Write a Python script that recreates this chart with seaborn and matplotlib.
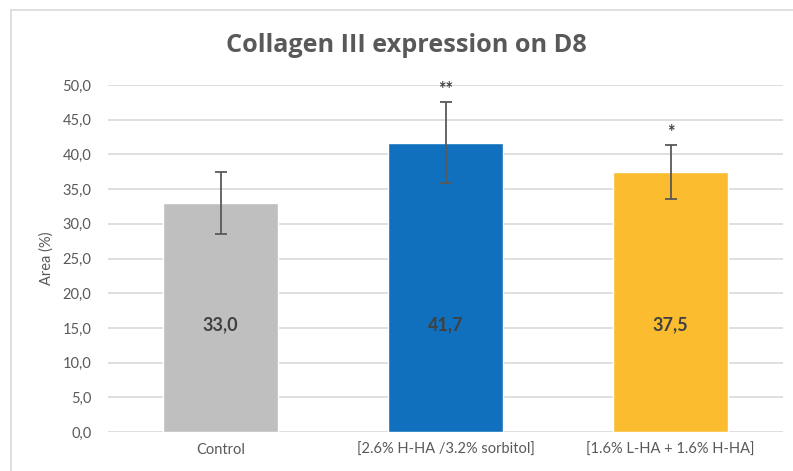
import numpy as np
import matplotlib
matplotlib.use("Agg")
import matplotlib.pyplot as plt
import seaborn as sns
from matplotlib.patches import Rectangle

categories = ["Control", "[2.6% H-HA /3.2% sorbitol]", "[1.6% L-HA + 1.6% H-HA]"]
values = [33.0, 41.7, 37.5]
errors = [4.5, 5.8, 3.9]
value_labels = ["33,0", "41,7", "37,5"]
stars = ["", "**", "*"]
colors = ["#BFBFBF", "#1170BE", "#FBBC2F"]
yticks = [0, 5, 10, 15, 20, 25, 30, 35, 40, 45, 50]

sns.set_style("white")
plt.rcParams["font.family"] = ["Lato", "DejaVu Sans"]

fig = plt.figure(figsize=(7.93, 4.71), dpi=100)
ax = fig.add_axes([108 / 793, 1 - 432 / 471, 675 / 793, 347 / 471])

sns.barplot(x=categories, y=values, hue=categories, palette=colors,
            width=0.51, saturation=1, legend=False, ax=ax, zorder=2)
ax.errorbar(range(len(values)), values, yerr=errors, fmt="none",
            ecolor="#595959", elinewidth=1.3, capsize=4, capthick=1.3, zorder=3)

for i, (v, e, lab, s) in enumerate(zip(values, errors, value_labels, stars)):
    ax.text(i, 15.4, lab, ha="center", va="center", fontsize=13,
            fontweight="bold", color="#404040", zorder=4)
    if s:
        ax.text(i, v + e + 0.6, s, ha="center", va="bottom", fontsize=13,
                fontweight="bold", color="#404040")

ax.set_ylim(0, 50)
ax.set_xlim(-0.5, 2.5)
ax.set_yticks(yticks)
ax.set_yticklabels([f"{t:.1f}".replace(".", ",") for t in yticks])
ax.yaxis.grid(True, color="#D9D9D9", linewidth=1.2, zorder=0)
ax.set_axisbelow(True)
for sp in ax.spines.values():
    sp.set_visible(False)
ax.tick_params(axis="both", length=0, labelsize=10.5, labelcolor="#595959")
ax.tick_params(axis="y", pad=12)
ax.tick_params(axis="x", pad=8)
ax.set_ylabel("Area (%)", fontsize=10.5, color="#595959", labelpad=6)
ax.set_xlabel("")

fig.text(406 / 793, 1 - 45 / 471, "Collagen III expression on D8", ha="center",
         va="center", fontsize=18.2, fontweight="bold", color="#595959",
         family=["Open Sans", "DejaVu Sans"])

fig.patches.append(Rectangle((11 / 793, -0.1), 1.0, 1.1 - 10 / 471,
                             transform=fig.transFigure, fill=False,
                             edgecolor="#D9D9D9", linewidth=1.2))

fig.savefig("out.png", dpi=100)
